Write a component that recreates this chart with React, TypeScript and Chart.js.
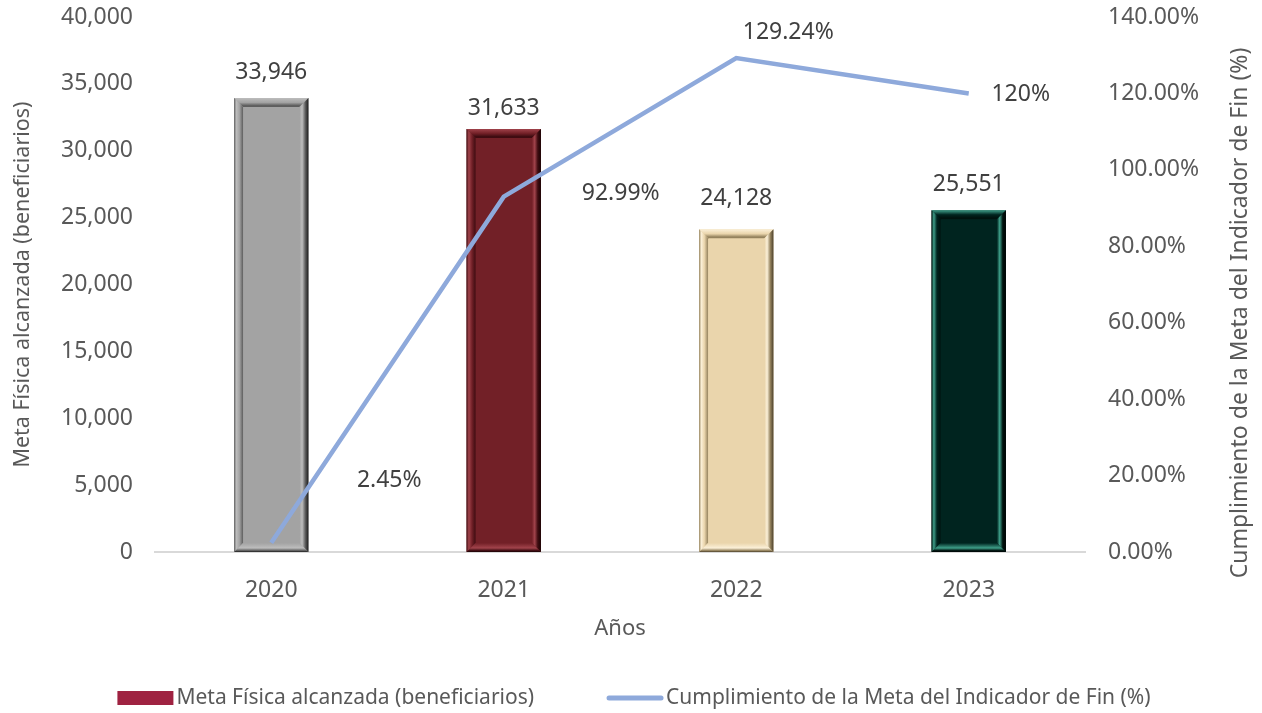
import React, { useEffect, useRef } from "react";
import { Chart, registerables } from "chart.js";

Chart.register(...registerables);

const categories = ["2020", "2021", "2022", "2023"];
const metaValues = [33946, 31633, 24128, 25551];
const cumplimiento = [2.45, 92.99, 129.24, 120];
const cumplimientoLabels = ["2.45%", "92.99%", "129.24%", "120%"];
const barFaces = ["#A3A3A3", "#722027", "#EAD5AC", "#00241F"];
const barLights = ["#BDBDBD", "#A1434B", "#FBF0D8", "#3E9F89"];
const barShadows = ["#5E5E5E", "#3E0C11", "#95835E", "#00120E"];
const barEdges = ["#1C1C1C", "#1A0304", "#4A3F2A", "#000504"];
const barLabelOffsets = [26, 20, 31, 26];
const lineLabelOffsets = [
  [118, -62],
  [117, -3],
  [52, -26],
  [52, 1],
];

const seriesBarName = "Meta Física alcanzada (beneficiarios)";
const seriesLineName = "Cumplimiento de la Meta del Indicador de Fin (%)";
const legendBarColor = "#9F2241";
const lineColor = "#8EA9DB";
const textColor = "#595959";
const FONT = "'Noto Sans', sans-serif";

const bevelPlugin = {
  id: "bevel",
  afterDatasetDraw(chart: any, args: any) {
    if (args.index !== 0) return;
    const ctx = chart.ctx;
    const meta = chart.getDatasetMeta(0);
    meta.data.forEach((bar: any, i: number) => {
      const { x, y, base, width } = bar.getProps(["x", "y", "base", "width"], true);
      const l = x - width / 2;
      const r = x + width / 2;
      const t = y;
      const b = base;
      const bw = 9;
      const light = barLights[i];
      const dark = barShadows[i];
      const edge = barEdges[i];
      const face = barFaces[i];
      ctx.save();
      // top
      let g = ctx.createLinearGradient(0, t, 0, t + bw);
      g.addColorStop(0, light);
      g.addColorStop(0.5, face);
      g.addColorStop(0.85, dark);
      g.addColorStop(1, dark);
      ctx.fillStyle = g;
      ctx.beginPath();
      ctx.moveTo(l, t);
      ctx.lineTo(r, t);
      ctx.lineTo(r - bw, t + bw);
      ctx.lineTo(l + bw, t + bw);
      ctx.closePath();
      ctx.fill();
      // left
      g = ctx.createLinearGradient(l, 0, l + bw, 0);
      g.addColorStop(0, dark);
      g.addColorStop(0.25, light);
      g.addColorStop(0.6, face);
      g.addColorStop(1, dark);
      ctx.fillStyle = g;
      ctx.beginPath();
      ctx.moveTo(l, t);
      ctx.lineTo(l + bw, t + bw);
      ctx.lineTo(l + bw, b - bw);
      ctx.lineTo(l, b);
      ctx.closePath();
      ctx.fill();
      // right
      g = ctx.createLinearGradient(r - bw, 0, r, 0);
      g.addColorStop(0, face);
      g.addColorStop(0.3, light);
      g.addColorStop(0.65, dark);
      g.addColorStop(1, edge);
      ctx.fillStyle = g;
      ctx.beginPath();
      ctx.moveTo(r, t);
      ctx.lineTo(r - bw, t + bw);
      ctx.lineTo(r - bw, b - bw);
      ctx.lineTo(r, b);
      ctx.closePath();
      ctx.fill();
      // bottom
      g = ctx.createLinearGradient(0, b - bw, 0, b);
      g.addColorStop(0, face);
      g.addColorStop(0.55, light);
      g.addColorStop(0.85, dark);
      g.addColorStop(1, edge);
      ctx.fillStyle = g;
      ctx.beginPath();
      ctx.moveTo(l, b);
      ctx.lineTo(l + bw, b - bw);
      ctx.lineTo(r - bw, b - bw);
      ctx.lineTo(r, b);
      ctx.closePath();
      ctx.fill();
      ctx.restore();
    });
  },
};

const labelsPlugin = {
  id: "valueLabels",
  afterDatasetsDraw(chart: any) {
    const ctx = chart.ctx;
    ctx.save();
    ctx.font = `23px ${FONT}`;
    ctx.fillStyle = "#404040";
    ctx.textAlign = "center";
    ctx.textBaseline = "middle";
    chart.getDatasetMeta(0).data.forEach((bar: any, i: number) => {
      ctx.fillText(metaValues[i].toLocaleString("en-US"), bar.x, bar.y - barLabelOffsets[i]);
    });
    chart.getDatasetMeta(1).data.forEach((pt: any, i: number) => {
      const [dx, dy] = lineLabelOffsets[i];
      ctx.fillText(cumplimientoLabels[i], pt.x + dx, pt.y + dy);
    });
    ctx.restore();
  },
};

const extrasPlugin = {
  id: "extras",
  afterDraw(chart: any) {
    const ctx = chart.ctx;
    ctx.save();
    // right axis title (reads bottom to top)
    ctx.font = `23px ${FONT}`;
    ctx.fillStyle = textColor;
    ctx.textAlign = "center";
    ctx.textBaseline = "middle";
    ctx.translate(chart.width - 22, 313);
    ctx.rotate(-Math.PI / 2);
    ctx.fillText(seriesLineName, 0, 0);
    ctx.restore();

    // legend
    ctx.save();
    ctx.font = `21px ${FONT}`;
    ctx.textBaseline = "middle";
    const boxW = 56;
    const gapText = 3;
    const gapItems = 73;
    const w1 = ctx.measureText(seriesBarName).width;
    const w2 = ctx.measureText(seriesLineName).width;
    const total = boxW + gapText + w1 + gapItems + boxW + gapText + w2;
    let x = chart.width / 2 - total / 2 + 3;
    const y = 698;
    ctx.fillStyle = legendBarColor;
    ctx.fillRect(x, y - 7, boxW, 14);
    x += boxW + gapText;
    ctx.fillStyle = textColor;
    ctx.fillText(seriesBarName, x, y);
    x += w1 + gapItems;
    ctx.strokeStyle = lineColor;
    ctx.lineWidth = 5;
    ctx.lineCap = "round";
    ctx.beginPath();
    ctx.moveTo(x + 2, y);
    ctx.lineTo(x + boxW - 2, y);
    ctx.stroke();
    x += boxW + gapText;
    ctx.fillText(seriesLineName, x, y);
    ctx.restore();
  },
};

const fixVertical = (width: number) => (s: any) => {
  s.width = width;
  s.paddingTop = 0;
  s.paddingBottom = 0;
};

export default function App() {
  const ref = useRef<HTMLCanvasElement>(null);
  useEffect(() => {
    document.body.style.margin = "0";
    const canvas = ref.current!;
    const chart = new Chart(canvas, {
      type: "bar",
      data: {
        labels: categories,
        datasets: [
          {
            type: "bar",
            label: seriesBarName,
            data: metaValues,
            backgroundColor: barFaces,
            borderWidth: 0,
            yAxisID: "y",
            order: 2,
            categoryPercentage: 1,
            barPercentage: 0.32,
          } as any,
          {
            type: "line",
            label: seriesLineName,
            data: cumplimiento,
            borderColor: lineColor,
            backgroundColor: lineColor,
            borderWidth: 4.5,
            pointRadius: 0,
            tension: 0,
            yAxisID: "y1",
            order: 1,
          } as any,
        ],
      },
      options: {
        responsive: false,
        animation: false,
        layout: { padding: { top: 17, bottom: 60, left: 0, right: 0 } },
        plugins: {
          legend: { display: false },
          tooltip: { enabled: false },
        },
        scales: {
          x: {
            grid: { display: false, drawTicks: false },
            border: { display: true, color: "#D9D9D9", width: 2 },
            ticks: { font: { family: FONT, size: 23 }, color: textColor, padding: 25 },
            title: {
              display: true,
              text: "Años",
              font: { family: FONT, size: 22 },
              color: textColor,
              padding: { top: 0, bottom: 11 },
            },
            afterFit: (s: any) => {
              s.height = 713 - 552 - 60;
              s.paddingLeft = 0;
              s.paddingRight = 0;
            },
          },
          y: {
            position: "left",
            min: 0,
            max: 40000,
            grid: { display: false, drawTicks: false },
            border: { display: false },
            ticks: {
              stepSize: 5000,
              font: { family: FONT, size: 23 },
              color: textColor,
              padding: 22,
              callback: (v: any) => Number(v).toLocaleString("en-US"),
            },
            title: {
              display: true,
              text: seriesBarName,
              font: { family: FONT, size: 21.5 },
              color: textColor,
              padding: { top: 10, bottom: 0 },
            },
            afterFit: fixVertical(155),
          },
          y1: {
            position: "right",
            min: 0,
            max: 140,
            grid: { display: false, drawTicks: false },
            border: { display: false },
            ticks: {
              stepSize: 20,
              font: { family: FONT, size: 23 },
              color: textColor,
              padding: 23,
              callback: (v: any) => Number(v).toFixed(2) + "%",
            },
            title: { display: false },
            afterFit: fixVertical(177),
          },
        },
      } as any,
      plugins: [bevelPlugin, labelsPlugin, extrasPlugin],
    });
    return () => chart.destroy();
  }, []);
  return (
    <div style={{ width: 1262, height: 713, background: "#fff" }}>
      <canvas ref={ref} width={1262} height={713} />
    </div>
  );
}
